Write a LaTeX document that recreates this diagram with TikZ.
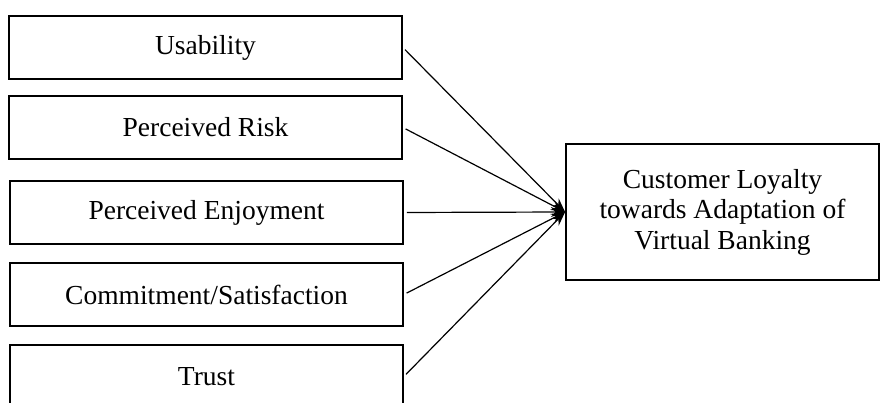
\documentclass[tikz,border=0pt]{standalone}
\usepackage{fontspec}
\setmainfont{Liberation Serif}
\usetikzlibrary{arrows.meta,positioning}
\tikzset{
  >={Stealth[length=5mm,width=3.5mm]},
  factor/.style={draw=black, line width=1.8pt, minimum width=393pt, minimum height=63pt,
              inner sep=0pt, align=center, font=\fontsize{27.5}{30.5}\selectfont},
  outcome/.style={draw=black, line width=1.8pt, minimum width=313pt, minimum height=136pt,
              inner sep=0pt, align=center, font=\fontsize{27.5}{30.5}\selectfont},
  link/.style={->, draw=black, line width=1.2pt, shorten <=3pt},
}

\begin{document}
\begin{tikzpicture}[x=1pt,y=-1pt]
        \useasboundingbox (0,0) rectangle (881,403);
        % factors on the left
        \node[factor] (use) at (205.5,47.5) {Usability};
        \node[factor] (risk) at (205.5,127.5) {Perceived Risk};
        \node[factor] (enjoy) at (206.5,212.5) {Perceived Enjoyment};
        \node[factor] (commit) at (206.5,294.5) {Commitment/Satisfaction};
        \node[factor] (trust) at (206.5,376.5) {Trust};
        % outcome
        \node[outcome] (loyal) at (722.5,212) {Customer Loyalty\\towards Adaptation of\\Virtual Banking};
        \foreach \f in {use,risk,enjoy,commit,trust}{
          \draw[link] (\f.east) -- (loyal.west);}
      \end{tikzpicture}
\end{document}
